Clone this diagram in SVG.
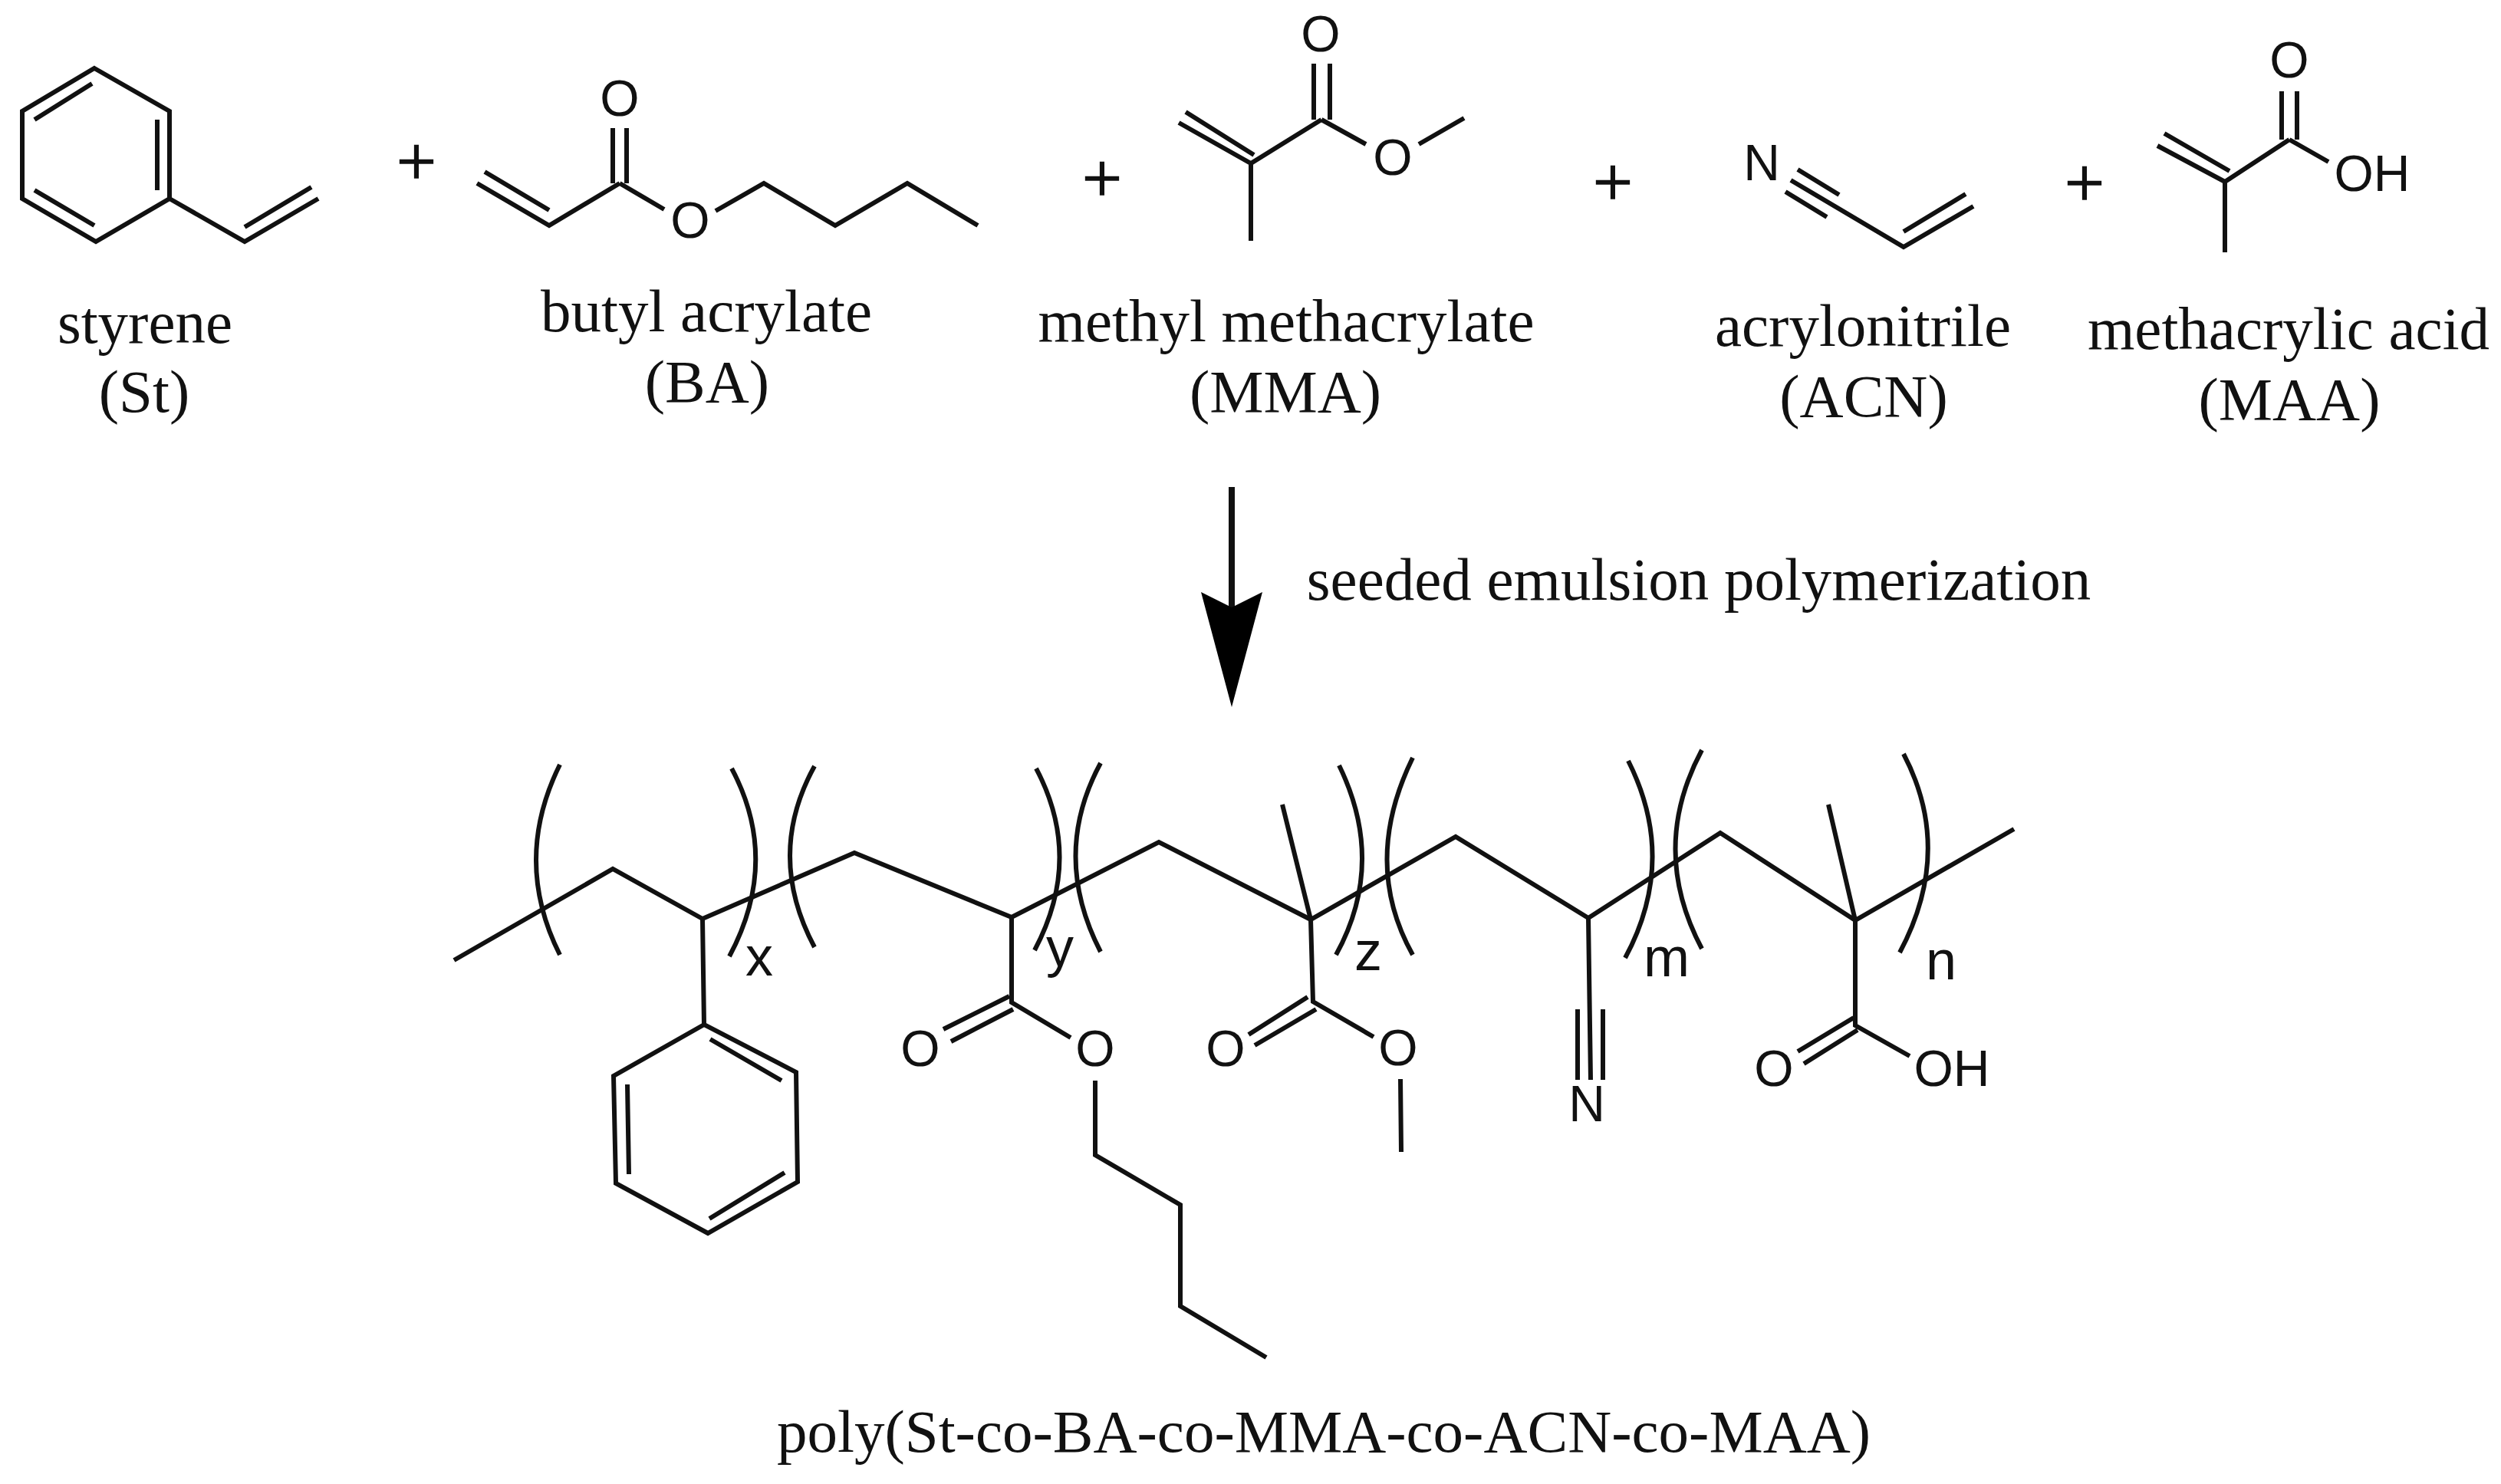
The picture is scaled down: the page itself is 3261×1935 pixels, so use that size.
<svg xmlns="http://www.w3.org/2000/svg" width="3261" height="1935" viewBox="0 0 3261 1935">
<style>
.b{fill:none;stroke:#111;stroke-width:6;stroke-linecap:butt;stroke-linejoin:miter}
.t{font-family:"Liberation Serif","Times New Roman",serif;font-size:79px;fill:#111;text-anchor:middle}
.a{font-family:"Liberation Sans",Arial,sans-serif;font-size:66px;fill:#111;text-anchor:middle}
.s{font-size:72px}
.p{font-family:"Liberation Serif","Times New Roman",serif;font-size:92px;fill:#111;stroke:#111;stroke-width:1.5;text-anchor:middle}
</style>
<defs>
<marker id="head" markerUnits="userSpaceOnUse" markerWidth="80" markerHeight="160" refX="40" refY="20" orient="auto-start-reverse" viewBox="0 0 80 160" overflow="visible">
<path d="M0 0L40 20L80 0L40 150Z" fill="#000" transform="rotate(-90 40 20)"/>
</marker>
</defs>
<rect width="3261" height="1935" fill="#fff"/>
<g id="styrene">
<path class="b" d="M123 89L221 145V259L125 315L29 259V145ZM221 259L319 315L415 259M45 156L120 109M205 156V248M45 248L123 294M319 296L406 244"/>
<text class="t" x="189" y="447">styrene</text>
<text class="t" x="188" y="537">(St)</text>
</g>
<text class="p" x="543" y="241">+</text>
<g id="butyl-acrylate">
<path class="b" d="M622 239L716 294L808 239M632 224L716 274M799 167V239M817 167V239M808 239L866 273M933 275L996 239L1089 294L1183 239L1275 294"/>
<text class="a" x="808" y="151">O</text>
<text class="a" x="900" y="310">O</text>
<text class="t" x="921" y="432">butyl acrylate</text>
<text class="t" x="922" y="524">(BA)</text>
</g>
<text class="p" x="1437" y="263">+</text>
<g id="methyl-methacrylate">
<path class="b" d="M1537 160L1631 213L1723 156M1546 146L1635 202M1631 213V314M1713 83V156M1734 83V156M1723 156L1781 188M1850 188L1909 154"/>
<text class="a" x="1722" y="67">O</text>
<text class="a" x="1816" y="228">O</text>
<text class="t" x="1677" y="445">methyl methacrylate</text>
<text class="t" x="1676" y="537">(MMA)</text>
</g>
<text class="p" x="2103" y="268">+</text>
<g id="acrylonitrile">
<path class="b" d="M2344 221L2398 254M2328 250L2382 283M2335 235L2482 322L2573 269M2482 302L2563 253"/>
<text class="a" x="2297" y="235">N</text>
<text class="t" x="2429" y="451">acrylonitrile</text>
<text class="t" x="2430" y="543">(ACN)</text>
</g>
<text class="p" x="2718" y="269">+</text>
<g id="methacrylic-acid">
<path class="b" d="M2813 190L2901 237L2985 182M2822 174L2907 223M2901 237V329M2975 119V182M2995 119V182M2985 182L3036 211"/>
<text class="a" x="2985" y="101">O</text>
<text class="a" x="3093" y="249">OH</text>
<text class="t" x="2984" y="455">methacrylic acid</text>
<text class="t" x="2985" y="547">(MAA)</text>
</g>
<g id="connectors">
<line x1="1606" y1="635" x2="1606" y2="792" stroke="#111" stroke-width="8" marker-end="url(#head)"/>
</g>
<text id="reaction-label" class="t" x="2215" y="782">seeded emulsion polymerization</text>
<g id="polymer">
<path class="b" d="M592 1252L799 1133L916 1198L1114 1112L1319 1196L1511 1098L1709 1199L1898 1091L2071 1197L2243 1086L2419 1200L2626 1081"/>
<g id="brackets">
<path class="b" d="M730 997Q668 1122 730 1245M954 1002Q1018 1122 951 1247M1062 999Q998 1115 1062 1235M1351 1002Q1413 1119 1349 1239M1435 995Q1370 1115 1435 1241M1746 998Q1808 1125 1742 1245M1842 988Q1775 1125 1842 1245M2123 992Q2188 1121 2119 1249M2219 978Q2150 1107 2219 1237M2482 983Q2548 1109 2477 1242"/>
<text class="a s" x="990" y="1272">x</text>
<text class="a s" x="1382" y="1260">y</text>
<text class="a s" x="1784" y="1265">z</text>
<text class="a s" x="2173" y="1273">m</text>
<text class="a s" x="2531" y="1277">n</text>
</g>
<g id="phenyl">
<path class="b" d="M916 1198L918 1336L1038 1398L1040 1541L923 1608L803 1543L800 1403L918 1336M926 1355L1019 1409M818 1414L820 1531M925 1589L1023 1529"/>
</g>
<g id="ester-ba">
<path class="b" d="M1319 1196L1319 1307L1396 1353M1230 1342L1316 1299M1240 1358L1321 1316M1428 1409V1506L1539 1571V1703L1651 1770"/>
<text class="a" x="1200" y="1390">O</text>
<text class="a" x="1428" y="1390">O</text>
</g>
<g id="ester-mma">
<path class="b" d="M1672 1049L1709 1199L1712 1306L1791 1352M1628 1349L1705 1300M1636 1363L1716 1316M1826 1407L1827 1502"/>
<text class="a" x="1598" y="1390">O</text>
<text class="a" x="1823" y="1389">O</text>
</g>
<g id="nitrile">
<path class="b" d="M2071 1197L2074 1408M2057 1316V1408M2090 1316V1408"/>
<text class="a" x="2069" y="1462">N</text>
</g>
<g id="acid">
<path class="b" d="M2384 1049L2419 1200V1337L2490 1377M2344 1371L2417 1327M2352 1387L2422 1343"/>
<text class="a" x="2313" y="1416">O</text>
<text class="a" x="2545" y="1416">OH</text>
</g>
<text class="t" x="1726" y="1893">poly(St-co-BA-co-MMA-co-ACN-co-MAA)</text>
</g>
</svg>
